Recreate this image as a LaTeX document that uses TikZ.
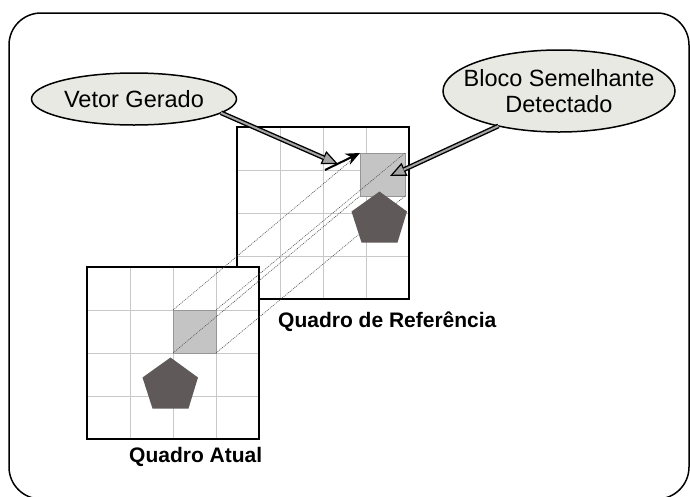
\documentclass[tikz,border=0pt]{standalone}
\usepackage{fontspec}
\setmainfont{Liberation Sans}
\usetikzlibrary{arrows.meta,shapes.geometric}
\definecolor{ellfill}{RGB}{233,233,227}
\definecolor{arrowgray}{RGB}{165,165,165}
\definecolor{blockfill}{RGB}{196,196,196}
\definecolor{blockedge}{RGB}{150,150,150}
\definecolor{pentfill}{RGB}{95,89,89}
\definecolor{gridgray}{RGB}{200,200,200}
\definecolor{dotgray}{RGB}{80,80,80}
\begin{document}
\begin{tikzpicture}[x=1pt,y=-1pt,
  framebox/.style={rectangle, fill=white, minimum size=172pt, inner sep=0pt, outer sep=0pt},
  frameline/.style={draw=black, line width=2pt},
  gridline/.style={draw=gridgray, line width=1pt},
  blockbox/.style={rectangle, fill=blockfill, draw=blockedge, line width=0.8pt, inner sep=0pt, outer sep=0pt, anchor=north west},
  pent/.style={fill=pentfill},
  dotline/.style={draw=dotgray, line width=0.6pt, dash pattern=on 1pt off 1pt},
  callout/.style={ellipse, fill=ellfill, draw=black, line width=1.5pt, inner sep=0pt, outer sep=0pt},
  calltext/.style={font=\fontsize{23.5pt}{26pt}\selectfont, align=center},
  fatback/.style={line width=4.8pt, draw=black, -{Triangle[length=16pt,width=14pt,fill=arrowgray,line width=1.2pt]}},
  fatin/.style={line width=2pt, draw=arrowgray, shorten >=15pt},
  mvarrow/.style={line width=2pt, draw=black, -{Stealth[length=14pt,width=12pt]}},
  framelabel/.style={font=\fontsize{21pt}{24pt}\selectfont\bfseries, anchor=base west, inner sep=0pt}
]
\useasboundingbox (0,0) rectangle (690,496);
\clip (0,0) rectangle (690,496);
% outer rounded frame
\draw[line width=1.5pt, rounded corners=32pt] (9,13) rectangle (689,499);

% reference frame
\node[framebox] (rf) at (323,213) {};
\foreach \i in {1,2,3} {
  \draw[gridline] (237+43*\i,128) -- (237+43*\i,298);
  \draw[gridline] (238,127+43*\i) -- (408,127+43*\i);
}
\node[blockbox, minimum width=45pt, minimum height=43pt] (rb) at (360,153) {};
\draw[frameline] (rf.north west) rectangle (rf.south east);

% current frame
\node[framebox] (cf) at (173,353) {};
\foreach \i in {1,2,3} {
  \draw[gridline] (87+43*\i,268) -- (87+43*\i,438);
  \draw[gridline] (88,267+43*\i) -- (258,267+43*\i);
}
\node[blockbox, minimum width=43pt, minimum height=43pt] (cb) at (173,310) {};
\fill[pent] (170.5,357.5) -- (198,377.5) -- (188.5,408.5) -- (152.5,408.5) -- (142.5,377.5) -- cycle;
\draw[frameline] (cf.north west) rectangle (cf.south east);

% projection lines
\draw[dotline] (cb.north west) -- (rb.north west);
\draw[dotline] (cb.north east) -- (rb.north east);
\draw[dotline] (cb.south west) -- (rb.south west);
\draw[dotline] (cb.south east) -- (rb.south east);

% pentagon in reference frame
\fill[pent] (379.5,191.5) -- (407,211.5) -- (397.5,242.5) -- (361.5,242.5) -- (351.5,211.5) -- cycle;

% motion vector
\coordinate (mvs) at (325,170);
\coordinate (mve) at (360,153);
\draw[mvarrow] (mvs) -- (mve);

% callouts
\node[callout, minimum width=205pt, minimum height=52pt,
      label={[calltext]center:Vetor Gerado}] (vg) at (134,99) {};
\node[callout, minimum width=232pt, minimum height=82pt,
      label={[calltext]center:{Bloco Semelhante\\Detectado}}] (bs) at (559,91) {};

\coordinate (vtip) at (338,164);
\coordinate (btip) at (390,176);
\draw[fatback] (vg.-9) -- (vtip);
\draw[fatin] (vg.-9) -- (vtip);
\draw[fatback] (bs.210) -- (btip);
\draw[fatin] (bs.210) -- (btip);

% labels
\node[framelabel] (rl) at (278,327) {Quadro de Referência};
\node[framelabel] (cl) at (129,462) {Quadro Atual};
\end{tikzpicture}
\end{document}
